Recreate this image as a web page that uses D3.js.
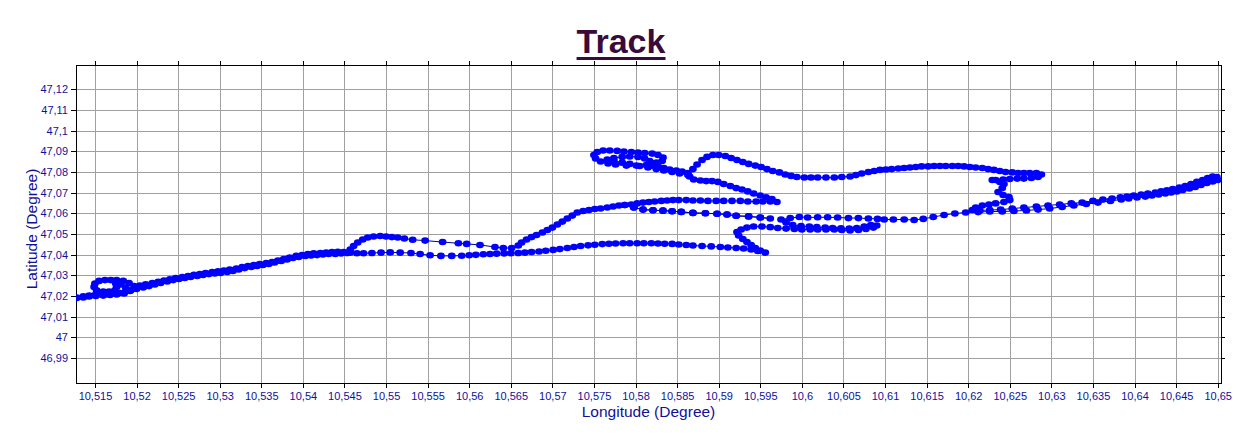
<!DOCTYPE html>
<html><head><meta charset="utf-8">
<script src="https://cdn.jsdelivr.net/npm/d3@7"></script>
<style>html,body{margin:0;padding:0;background:#fff;} svg{display:block;}</style>
</head><body><svg id="c" width="1242" height="442"></svg>
<script>
const chartTitle = "Track";
const xAxisTitle = "Longitude (Degree)";
const yAxisTitle = "Latitude (Degree)";
const xTicks = [10.515,10.52,10.525,10.53,10.535,10.54,10.545,10.55,10.555,10.56,10.565,10.57,10.575,10.58,10.585,10.59,10.595,10.6,10.605,10.61,10.615,10.62,10.625,10.63,10.635,10.64,10.645,10.65];
const xTickLabels = ["10,515","10,52","10,525","10,53","10,535","10,54","10,545","10,55","10,555","10,56","10,565","10,57","10,575","10,58","10,585","10,59","10,595","10,6","10,605","10,61","10,615","10,62","10,625","10,63","10,635","10,64","10,645","10,65"];
const yTicks = [46.99,47.0,47.01,47.02,47.03,47.04,47.05,47.06,47.07,47.08,47.09,47.1,47.11,47.12];
const yTickLabels = ["46,99","47","47,01","47,02","47,03","47,04","47,05","47,06","47,07","47,08","47,09","47,1","47,11","47,12"];
const xDomain = [10.51272, 10.65040];
const yDomain = [46.97791, 47.13176];
// GPS track points [longitude, latitude] in recorded order
const trackPoints = [
[10.5128,47.0193],[10.5136,47.0198],[10.5143,47.0202],[10.5150,47.0205],[10.5157,47.0207],[10.5164,47.0210],[10.5172,47.0212],[10.5179,47.0215],[10.5186,47.0219],[10.5193,47.0227],[10.5200,47.0234],[10.5208,47.0241],[10.5215,47.0248],[10.5222,47.0256],[10.5229,47.0263],[10.5237,47.0270],[10.5244,47.0277],[10.5251,47.0282],[10.5258,47.0287],[10.5265,47.0292],[10.5273,47.0297],[10.5280,47.0302],[10.5287,47.0306],[10.5294,47.0309],[10.5301,47.0311],[10.5309,47.0316],[10.5316,47.0321],[10.5323,47.0328],[10.5330,47.0335],[10.5338,47.0340],[10.5345,47.0345],[10.5352,47.0350],[10.5359,47.0355],[10.5366,47.0362],[10.5374,47.0369],[10.5381,47.0377],[10.5388,47.0384],[10.5395,47.0389],[10.5403,47.0394],[10.5410,47.0396],[10.5417,47.0398],[10.5424,47.0401],[10.5431,47.0403],[10.5439,47.0403],[10.5446,47.0406],[10.5453,47.0408],
[10.5457,47.0425],[10.5461,47.0442],[10.5466,47.0459],[10.5472,47.0473],[10.5478,47.0483],[10.5485,47.0488],[10.5493,47.0490],[10.5500,47.0488],[10.5507,47.0485],[10.5514,47.0483],[10.5522,47.0478],[10.5532,47.0472],[10.5547,47.0468],[10.5568,47.0461],[10.5587,47.0455],[10.5597,47.0452],[10.5613,47.0447],[10.5631,47.0437],[10.5641,47.0432],[10.5651,47.0432],[10.5659,47.0444],
[10.5663,47.0459],[10.5669,47.0473],[10.5675,47.0485],[10.5681,47.0495],[10.5688,47.0507],[10.5694,47.0519],[10.5700,47.0531],[10.5706,47.0546],[10.5712,47.0560],[10.5718,47.0575],[10.5724,47.0589],[10.5730,47.0604],[10.5737,47.0611],[10.5744,47.0616],[10.5751,47.0621],[10.5758,47.0623],[10.5766,47.0628],[10.5773,47.0633],[10.5780,47.0638],[10.5787,47.0640],
[10.5798,47.0628],[10.5809,47.0618],[10.5821,47.0615],[10.5833,47.0613],[10.5844,47.0610],[10.5855,47.0607],[10.5869,47.0602],[10.5884,47.0600],[10.5898,47.0598],[10.5910,47.0594],[10.5921,47.0588],[10.5936,47.0585],[10.5950,47.0580],[10.5962,47.0575],
[10.5950,47.0580],[10.5936,47.0585],[10.5921,47.0588],[10.5910,47.0594],[10.5898,47.0598],[10.5884,47.0600],[10.5869,47.0602],[10.5855,47.0607],[10.5844,47.0610],[10.5833,47.0613],[10.5821,47.0615],[10.5809,47.0618],[10.5798,47.0628],[10.5787,47.0640],
[10.5795,47.0643],[10.5802,47.0648],[10.5809,47.0652],[10.5816,47.0655],[10.5823,47.0657],[10.5831,47.0660],[10.5838,47.0662],[10.5845,47.0664],[10.5852,47.0664],[10.5861,47.0664],[10.5869,47.0662],[10.5878,47.0662],[10.5887,47.0660],[10.5897,47.0660],[10.5906,47.0660],[10.5916,47.0660],[10.5926,47.0660],[10.5935,47.0657],[10.5945,47.0657],[10.5953,47.0657],[10.5962,47.0657],[10.5970,47.0655],
[10.5964,47.0669],[10.5957,47.0677],[10.5950,47.0686],[10.5942,47.0696],[10.5935,47.0706],[10.5928,47.0715],[10.5921,47.0722],[10.5914,47.0732],[10.5906,47.0742],[10.5899,47.0752],[10.5892,47.0756],[10.5885,47.0756],[10.5878,47.0759],[10.5870,47.0764],[10.5865,47.0778],[10.5863,47.0795],
[10.5856,47.0802],[10.5849,47.0807],[10.5841,47.0812],[10.5834,47.0819],[10.5827,47.0827],[10.5820,47.0831],[10.5813,47.0834],[10.5801,47.0831],[10.5789,47.0831],
[10.5776,47.0836],[10.5767,47.0841],[10.5758,47.0851],[10.5752,47.0865],[10.5750,47.0882],[10.5754,47.0897],[10.5761,47.0904],[10.5769,47.0904],[10.5778,47.0902],[10.5786,47.0899],[10.5795,47.0897],[10.5803,47.0894],[10.5811,47.0892],[10.5820,47.0889],[10.5827,47.0882],[10.5833,47.0870],[10.5832,47.0853],[10.5825,47.0846],[10.5817,47.0853],[10.5811,47.0865],[10.5803,47.0873],[10.5793,47.0875],[10.5784,47.0873],[10.5774,47.0868],[10.5766,47.0860],
[10.5774,47.0853],[10.5784,47.0846],[10.5793,47.0839],[10.5805,47.0829],[10.5815,47.0822],[10.5825,47.0814],[10.5834,47.0807],[10.5844,47.0800],[10.5853,47.0793],[10.5863,47.0785],
[10.5869,47.0814],[10.5874,47.0836],[10.5880,47.0858],[10.5886,47.0873],[10.5893,47.0882],[10.5900,47.0882],[10.5908,47.0877],[10.5915,47.0868],[10.5922,47.0858],[10.5929,47.0848],[10.5936,47.0839],[10.5944,47.0831],[10.5951,47.0824],[10.5958,47.0814],[10.5965,47.0805],[10.5973,47.0798],[10.5980,47.0788],[10.5987,47.0781],[10.5994,47.0776],[10.6003,47.0773],[10.6011,47.0773],[10.6019,47.0773],[10.6029,47.0773],[10.6039,47.0773],[10.6048,47.0776],[10.6058,47.0778],[10.6065,47.0785],[10.6072,47.0793],[10.6080,47.0800],[10.6087,47.0805],[10.6094,47.0810],[10.6101,47.0812],[10.6108,47.0814],[10.6116,47.0817],[10.6123,47.0819],[10.6130,47.0822],[10.6137,47.0824],[10.6144,47.0827],[10.6152,47.0827],[10.6159,47.0829],[10.6166,47.0829],[10.6173,47.0829],[10.6181,47.0829],[10.6188,47.0829],[10.6195,47.0827],[10.6202,47.0824],[10.6209,47.0822],[10.6217,47.0819],[10.6224,47.0814],[10.6231,47.0810],[10.6238,47.0805],[10.6245,47.0800],[10.6253,47.0798],[10.6260,47.0795],[10.6267,47.0795],[10.6274,47.0795],[10.6282,47.0795],[10.6288,47.0788],[10.6284,47.0776],[10.6276,47.0771],[10.6267,47.0768],[10.6259,47.0768],[10.6250,47.0766],[10.6242,47.0764],[10.6233,47.0761],[10.6229,47.0761],
[10.6238,47.0752],[10.6243,47.0742],[10.6241,47.0722],[10.6236,47.0703],[10.6242,47.0689],[10.6249,47.0679],[10.6250,47.0664],[10.6243,47.0655],[10.6233,47.0648],[10.6225,47.0643],[10.6217,47.0638],[10.6209,47.0628],[10.6205,47.0616],
[10.6214,47.0614],[10.6226,47.0616],[10.6239,47.0618],[10.6253,47.0623],[10.6267,47.0628],[10.6282,47.0633],[10.6296,47.0638],[10.6310,47.0643],[10.6324,47.0648],[10.6337,47.0652],[10.6350,47.0660],[10.6362,47.0667],[10.6373,47.0672],[10.6383,47.0677],[10.6391,47.0681],[10.6399,47.0686],[10.6408,47.0691],[10.6416,47.0696],[10.6425,47.0701],[10.6432,47.0706],[10.6439,47.0711],[10.6446,47.0718],[10.6454,47.0725],[10.6461,47.0732],[10.6468,47.0742],[10.6475,47.0752],[10.6482,47.0761],[10.6488,47.0771],[10.6494,47.0778],[10.6499,47.0776],[10.6500,47.0761],
[10.6494,47.0754],[10.6487,47.0747],[10.6480,47.0737],[10.6473,47.0727],[10.6466,47.0720],[10.6458,47.0713],[10.6451,47.0706],[10.6444,47.0701],[10.6437,47.0696],[10.6429,47.0691],[10.6421,47.0686],[10.6413,47.0681],[10.6403,47.0677],[10.6393,47.0672],[10.6384,47.0667],[10.6371,47.0660],[10.6356,47.0652],[10.6342,47.0645],[10.6327,47.0638],[10.6313,47.0631],[10.6298,47.0623],[10.6284,47.0618],[10.6270,47.0614],[10.6255,47.0611],[10.6241,47.0609],[10.6226,47.0609],[10.6212,47.0606],[10.6197,47.0604],[10.6184,47.0599],[10.6171,47.0592],[10.6158,47.0582],[10.6146,47.0573],[10.6135,47.0568],[10.6123,47.0570],[10.6110,47.0570],[10.6099,47.0570],[10.6091,47.0573],[10.6080,47.0575],[10.6068,47.0577],[10.6056,47.0577],[10.6043,47.0580],[10.6031,47.0581],[10.6019,47.0581],[10.6007,47.0580],[10.5997,47.0582],[10.5986,47.0577],[10.5975,47.0570],
[10.5981,47.0556],[10.5989,47.0543],[10.5999,47.0538],[10.6009,47.0536],[10.6018,47.0533],[10.6028,47.0531],[10.6037,47.0529],[10.6047,47.0527],[10.6057,47.0526],[10.6066,47.0529],[10.6075,47.0536],[10.6083,47.0543],[10.6090,47.0541],[10.6086,47.0531],[10.6077,47.0524],[10.6068,47.0519],[10.6058,47.0517],[10.6048,47.0519],[10.6039,47.0522],[10.6029,47.0522],[10.6019,47.0522],[10.6010,47.0522],[10.6000,47.0522],[10.5991,47.0524],[10.5981,47.0526],[10.5971,47.0529],[10.5962,47.0533],[10.5952,47.0536],[10.5942,47.0536],[10.5934,47.0531],[10.5927,47.0522],[10.5922,47.0510],
[10.5924,47.0493],[10.5929,47.0476],[10.5934,47.0461],[10.5939,47.0447],[10.5944,47.0432],[10.5950,47.0420],[10.5956,47.0410],
[10.5947,47.0418],[10.5939,47.0425],[10.5930,47.0430],[10.5921,47.0432],[10.5911,47.0435],[10.5902,47.0437],[10.5891,47.0440],[10.5880,47.0442],[10.5869,47.0444],[10.5861,47.0447],[10.5852,47.0449],[10.5844,47.0452],[10.5835,47.0453],[10.5827,47.0454],[10.5819,47.0455],[10.5810,47.0455],[10.5802,47.0455],[10.5793,47.0455],[10.5785,47.0455],[10.5776,47.0454],[10.5768,47.0453],[10.5760,47.0451],[10.5751,47.0448],[10.5743,47.0445],[10.5734,47.0442],[10.5726,47.0437],[10.5718,47.0432],[10.5709,47.0427],[10.5701,47.0423],[10.5692,47.0419],[10.5684,47.0415],[10.5675,47.0413],[10.5667,47.0410],[10.5659,47.0408],[10.5650,47.0407],
[10.5642,47.0406],[10.5633,47.0405],[10.5625,47.0403],[10.5617,47.0402],[10.5608,47.0399],[10.5600,47.0397],[10.5591,47.0395],[10.5579,47.0394],[10.5566,47.0394],[10.5553,47.0397],[10.5541,47.0403],[10.5530,47.0408],[10.5517,47.0410],[10.5505,47.0411],[10.5494,47.0410],[10.5483,47.0408],[10.5473,47.0407],[10.5465,47.0407],[10.5457,47.0410],
[10.5449,47.0413],[10.5442,47.0414],[10.5435,47.0413],[10.5428,47.0410],[10.5421,47.0408],[10.5413,47.0406],[10.5406,47.0403],[10.5399,47.0398],[10.5392,47.0394],[10.5384,47.0386],[10.5377,47.0379],[10.5370,47.0372],[10.5363,47.0364],[10.5356,47.0360],[10.5348,47.0355],[10.5341,47.0350],[10.5334,47.0345],[10.5327,47.0340],[10.5320,47.0333],[10.5312,47.0328],[10.5305,47.0323],[10.5298,47.0319],[10.5291,47.0316],[10.5283,47.0311],[10.5276,47.0306],[10.5269,47.0302],[10.5262,47.0297],[10.5255,47.0292],[10.5247,47.0287],[10.5240,47.0281],[10.5233,47.0275],[10.5226,47.0269],[10.5219,47.0263],[10.5211,47.0257],[10.5204,47.0251],[10.5197,47.0248],
[10.5191,47.0263],[10.5184,47.0273],[10.5176,47.0277],[10.5169,47.0277],[10.5162,47.0277],[10.5155,47.0273],[10.5150,47.0260],[10.5149,47.0244],[10.5152,47.0227],[10.5160,47.0222],[10.5167,47.0222],[10.5174,47.0227],[10.5176,47.0244],[10.5175,47.0260],[10.5181,47.0256],[10.5187,47.0241],[10.5192,47.0224],[10.5185,47.0212],[10.5176,47.0207],[10.5168,47.0205],[10.5160,47.0202],[10.5151,47.0200],[10.5143,47.0198],[10.5136,47.0193],[10.5128,47.0190]
];

const plot = {l:76, t:65, r:1221, b:383};
const svg = d3.select("#c");
const x = d3.scaleLinear().domain(xDomain).range([plot.l, plot.r]);
const y = d3.scaleLinear().domain(yDomain).range([plot.b, plot.t]);
const fontFam = "'Liberation Sans', Arial, sans-serif";
const axisColor = "#10109a";

svg.append("rect").attr("width",1242).attr("height",442).attr("fill","#fff");

// grid
svg.append("g").attr("transform",`translate(0,${plot.b})`)
  .call(d3.axisBottom(x).tickValues(xTicks).tickSize(-(plot.b-plot.t)).tickFormat(""))
  .call(g=>{g.select(".domain").remove(); g.selectAll("line").attr("stroke","#a0a0a0").attr("shape-rendering","crispEdges");});
svg.append("g").attr("transform",`translate(${plot.l},0)`)
  .call(d3.axisLeft(y).tickValues(yTicks).tickSize(-(plot.r-plot.l)).tickFormat(""))
  .call(g=>{g.select(".domain").remove(); g.selectAll("line").attr("stroke","#a0a0a0").attr("shape-rendering","crispEdges");});

// axes with labels
const bx = svg.append("g").attr("transform",`translate(0,${plot.b})`)
  .call(d3.axisBottom(x).tickValues(xTicks).tickSize(5).tickPadding(4).tickFormat((d,i)=>xTickLabels[i]));
const ly = svg.append("g").attr("transform",`translate(${plot.l},0)`)
  .call(d3.axisLeft(y).tickValues(yTicks).tickSize(5).tickPadding(3).tickFormat((d,i)=>yTickLabels[i]));
const tx = svg.append("g").attr("transform",`translate(0,${plot.t})`)
  .call(d3.axisTop(x).tickValues(xTicks).tickSize(4).tickFormat(""));
const ry = svg.append("g").attr("transform",`translate(${plot.r},0)`)
  .call(d3.axisRight(y).tickValues(yTicks).tickSize(4).tickFormat(""));
[bx,ly,tx,ry].forEach(g=>{
  g.selectAll(".domain").remove();
  g.selectAll("line").attr("stroke","#000").attr("shape-rendering","crispEdges");
  g.selectAll("text").attr("fill",axisColor).attr("font-family",fontFam).attr("font-size","11px");
});

svg.append("rect").attr("x",plot.l).attr("y",plot.t).attr("width",plot.r-plot.l).attr("height",plot.b-plot.t)
  .attr("fill","none").attr("stroke","#000").attr("stroke-width",1).attr("shape-rendering","crispEdges");

// track
svg.append("clipPath").attr("id","clip").append("rect")
  .attr("x",plot.l).attr("y",plot.t).attr("width",plot.r-plot.l).attr("height",plot.b-plot.t);
const tg = svg.append("g").attr("clip-path","url(#clip)");
tg.append("path").datum(trackPoints)
  .attr("d", d3.line().x(d=>x(d[0])).y(d=>y(d[1])))
  .attr("fill","none").attr("stroke","#000088").attr("stroke-width",1);
tg.selectAll("ellipse").data(trackPoints).join("ellipse")
  .attr("cx",d=>x(d[0])).attr("cy",d=>y(d[1])).attr("rx",3.9).attr("ry",3.3).attr("fill","#0000ff");

// titles
const t = svg.append("text").attr("x",621).attr("y",53).attr("text-anchor","middle")
  .attr("font-family",fontFam).attr("font-weight","bold").attr("font-size","34px")
  .attr("fill","#3a0a3a").text(chartTitle);
const bb = t.node().getBBox();
svg.append("rect").attr("x",bb.x).attr("y",57).attr("width",bb.width).attr("height",3).attr("fill","#3a0a3a");

svg.append("text").attr("x",(plot.l+plot.r)/2).attr("y",417).attr("text-anchor","middle")
  .attr("font-family",fontFam).attr("font-size","15.5px").attr("fill",axisColor).text(xAxisTitle);
svg.append("text").attr("transform","translate(37,229) rotate(-90)").attr("text-anchor","middle")
  .attr("font-family",fontFam).attr("font-size","15.5px").attr("fill",axisColor).text(yAxisTitle);
</script>
</body></html>
